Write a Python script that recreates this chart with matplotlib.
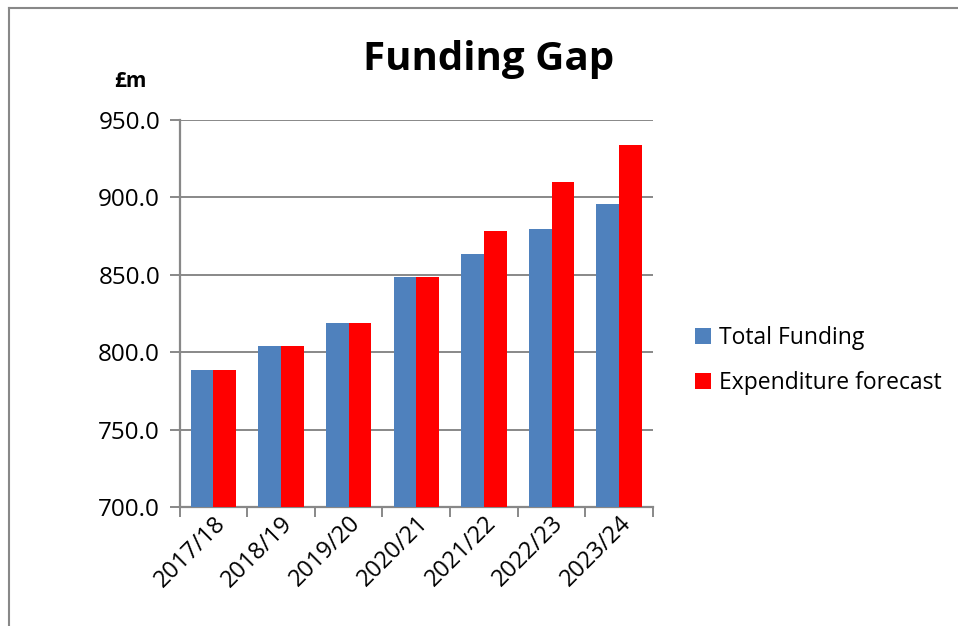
import numpy as np
import matplotlib.pyplot as plt
from matplotlib.lines import Line2D

# Data (GBP millions)
years = ["2017/18", "2018/19", "2019/20", "2020/21", "2021/22", "2022/23", "2023/24"]
total_funding = [788.6, 804.3, 818.7, 848.6, 863.6, 879.4, 895.7]
expenditure = [788.6, 804.3, 818.7, 848.6, 878.3, 909.9, 933.9]
y_ticks = [700, 750, 800, 850, 900, 950]

plt.rcParams['font.family'] = ['Open Sans', 'DejaVu Sans']

fig = plt.figure(figsize=(9.58, 6.26), dpi=100)
ax = fig.add_axes([0.1874, 0.1896, 0.4942, 0.619])

x = np.arange(len(years))
w = 0.335
ax.bar(x - w / 2, total_funding, width=w, color="#4F81BD", label="Total Funding", zorder=3)
ax.bar(x + w / 2, expenditure, width=w, color="#FF0000", label="Expenditure forecast", zorder=3)

ax.set_xlim(-0.5, len(years) - 0.5)
ax.set_ylim(700, 950)
ax.set_yticks(y_ticks)
ax.set_yticklabels([f"{v:.1f}" for v in y_ticks], fontsize=17.5)
ax.yaxis.grid(True, color="#888888", linewidth=1.4, zorder=0)

# category ticks sit between the groups
ax.set_xticks(np.arange(len(years) + 1) - 0.5, minor=False)
ax.set_xticklabels([])
ax.set_xticks(x, minor=True)
ax.set_xticklabels(years, minor=True, rotation=45, ha="right", rotation_mode="anchor", fontsize=17)
ax.tick_params(axis="x", which="minor", length=0, pad=3)
ax.tick_params(axis="x", which="major", length=7, width=1.4, color="#888888")
ax.tick_params(axis="y", length=7, width=1.4, color="#888888", pad=7)

for side in ["top", "right"]:
    ax.spines[side].set_visible(False)
for side in ["left", "bottom"]:
    ax.spines[side].set_color("#888888")
    ax.spines[side].set_linewidth(1.6)

fig.text(0.51, 0.905, "Funding Gap", ha="center", va="center", fontsize=29, fontweight="bold")
fig.text(0.136, 0.870, "£m", ha="center", va="center", fontsize=15, fontweight="bold")

fig.legend(loc="center left", bbox_to_anchor=(0.704, 0.424), frameon=False, fontsize=16.5,
           handlelength=0.7, handleheight=0.7, handletextpad=0.35, labelspacing=0.95)

# outer chart border (cropped on the right and bottom)
fig.add_artist(Line2D([0.0095, 1.0], [0.987, 0.987], transform=fig.transFigure, color="#888888", linewidth=1.5))
fig.add_artist(Line2D([0.0095, 0.0095], [0.0, 0.987], transform=fig.transFigure, color="#888888", linewidth=1.5))

fig.savefig("out.png", dpi=100)
